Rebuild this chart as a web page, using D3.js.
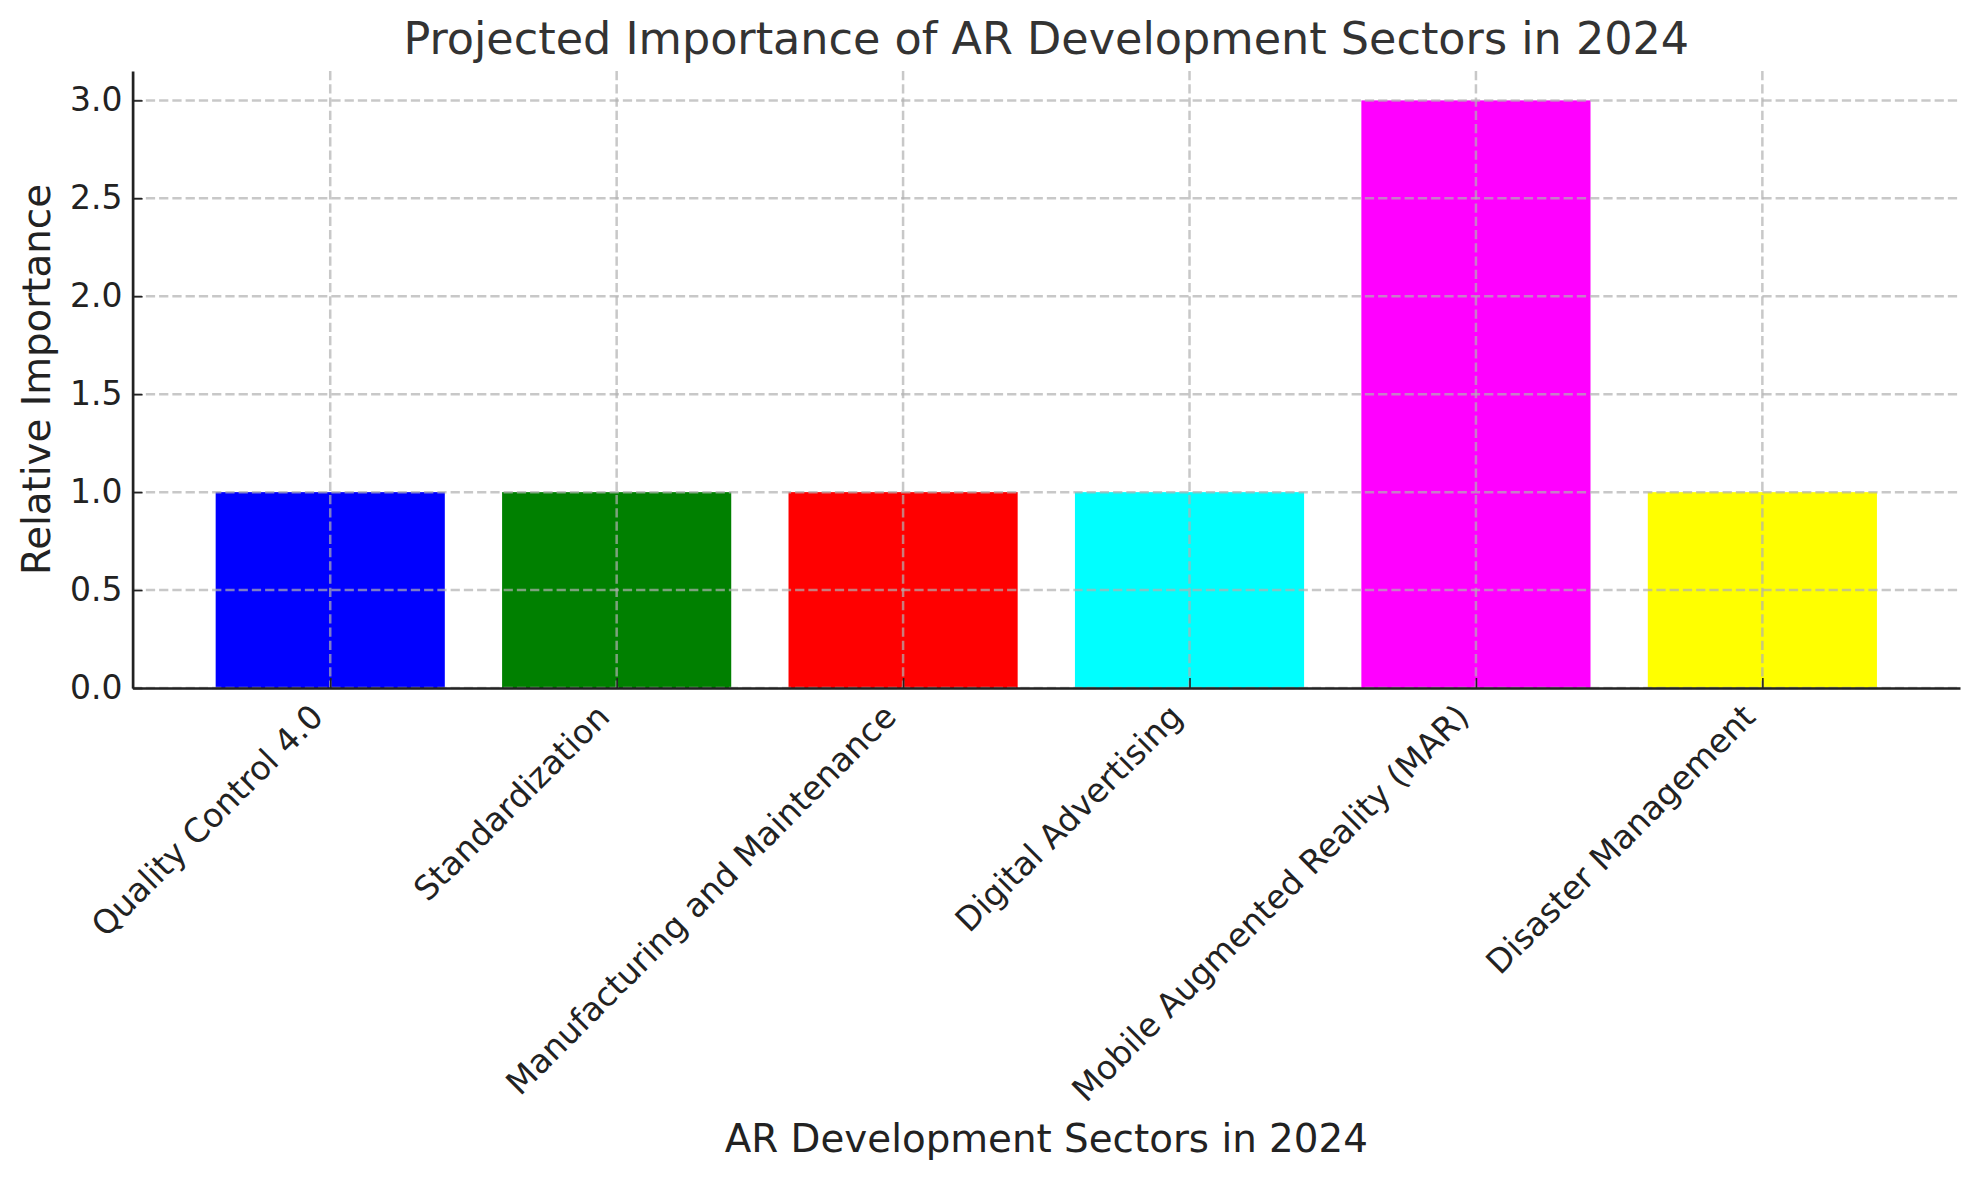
<!DOCTYPE html>
<html>
<head>
<meta charset="utf-8">
<script src="https://cdn.jsdelivr.net/npm/d3@7"></script>
<style>
  body { margin: 0; background: #fff; }
  text { font-family: "DejaVu Sans", sans-serif; }
</style>
</head>
<body>
<div id="chart"></div>
<script>
// data
const sectors = ["Quality Control 4.0", "Standardization", "Manufacturing and Maintenance",
    "Digital Advertising", "Mobile Augmented Reality (MAR)", "Disaster Management"];
const importance = [1, 1, 1, 1, 3, 1];
const barColors = ["#0000ff", "#008000", "#ff0000", "#00ffff", "#ff00ff", "#ffff00"];
const yTicks = [0, 0.5, 1, 1.5, 2, 2.5, 3];

const TICK_SIZE = 33;
const LABEL_SIZE = 38.8;
const TITLE_SIZE = 44.5;

const width = 1980, height = 1180;
const margin = { top: 71, right: 20, bottom: 492, left: 132.6 };
const innerWidth = width - margin.left - margin.right;
const innerHeight = height - margin.top - margin.bottom;

const svg = d3.select('#chart')
    .append('svg')
    .attr('width', width)
    .attr('height', height);

const g = svg.append('g')
    .attr('transform', `translate(${margin.left}, ${margin.top})`);

// index scale, like matplotlib: bars at 0..n-1, width 0.8, 5% margins
const n = sectors.length;
const pad = (n - 1 + 0.8) * 0.05;
const x = d3.scaleLinear()
    .domain([-0.4 - pad, n - 1 + 0.4 + pad])
    .range([0, innerWidth]);

const y = d3.scaleLinear()
    .domain([0, d3.max(importance) * 1.05])
    .range([innerHeight, 0]);

// bars
g.selectAll('rect.bar')
    .data(importance)
    .enter()
    .append('rect')
    .attr('class', 'bar')
    .attr('x', (d, i) => x(i - 0.4))
    .attr('width', (d, i) => x(i + 0.4) - x(i - 0.4))
    .attr('y', d => y(d))
    .attr('height', d => y(0) - y(d))
    .attr('fill', (d, i) => barColors[i]);

// grid drawn above bars
const grid = g.append('g')
    .attr('stroke', '#b0b0b0')
    .attr('stroke-opacity', 0.7)
    .attr('stroke-width', 2.5)
    .attr('stroke-dasharray', '9.25,4');

grid.selectAll('line.h')
    .data(yTicks)
    .enter()
    .append('line')
    .attr('x1', 0).attr('x2', innerWidth)
    .attr('y1', d => y(d)).attr('y2', d => y(d));

grid.selectAll('line.v')
    .data(sectors)
    .enter()
    .append('line')
    .attr('x1', (d, i) => x(i)).attr('x2', (d, i) => x(i))
    .attr('y1', 0).attr('y2', innerHeight);

// y axis
const yAxis = g.append('g')
    .call(d3.axisLeft(y).tickValues(yTicks).tickFormat(d3.format('.1f'))
        .tickSizeInner(-10).tickSizeOuter(0).tickPadding(10));

// x axis
const xAxis = g.append('g')
    .attr('transform', `translate(0, ${innerHeight})`)
    .call(d3.axisBottom(x).tickValues(d3.range(n)).tickFormat(i => sectors[i])
        .tickSizeInner(-10).tickSizeOuter(0));

[yAxis, xAxis].forEach(ax => {
    ax.select('.domain').attr('stroke', '#222').attr('stroke-width', 2.7);
    ax.selectAll('.tick line').attr('stroke', '#222').attr('stroke-width', 1.6);
    ax.selectAll('.tick text')
        .attr('fill', '#222')
        .style('font-size', `${TICK_SIZE}px`);
});

// rotated category labels, right end tucked under the tick
const asc = 0.76 * TICK_SIZE, desc = 0.24 * TICK_SIZE;
const r = Math.SQRT1_2;
xAxis.selectAll('.tick text')
    .attr('text-anchor', 'end')
    .attr('dy', null)
    .attr('y', null)
    .attr('transform', `translate(${-r * desc}, ${13 + r * asc}) rotate(-45)`);

// y label
svg.append('text')
    .attr('transform', `translate(49.5, ${margin.top + innerHeight / 2}) rotate(-90)`)
    .attr('text-anchor', 'middle')
    .attr('fill', '#222')
    .style('font-size', `${LABEL_SIZE}px`)
    .text('Relative Importance');

// x label
svg.append('text')
    .attr('x', margin.left + innerWidth / 2)
    .attr('y', 1151.5)
    .attr('text-anchor', 'middle')
    .attr('fill', '#222')
    .style('font-size', `${LABEL_SIZE}px`)
    .text('AR Development Sectors in 2024');

// title
svg.append('text')
    .attr('x', margin.left + innerWidth / 2)
    .attr('y', 54.3)
    .attr('text-anchor', 'middle')
    .attr('fill', '#333')
    .style('font-size', `${TITLE_SIZE}px`)
    .text('Projected Importance of AR Development Sectors in 2024');
</script>
</body>
</html>
